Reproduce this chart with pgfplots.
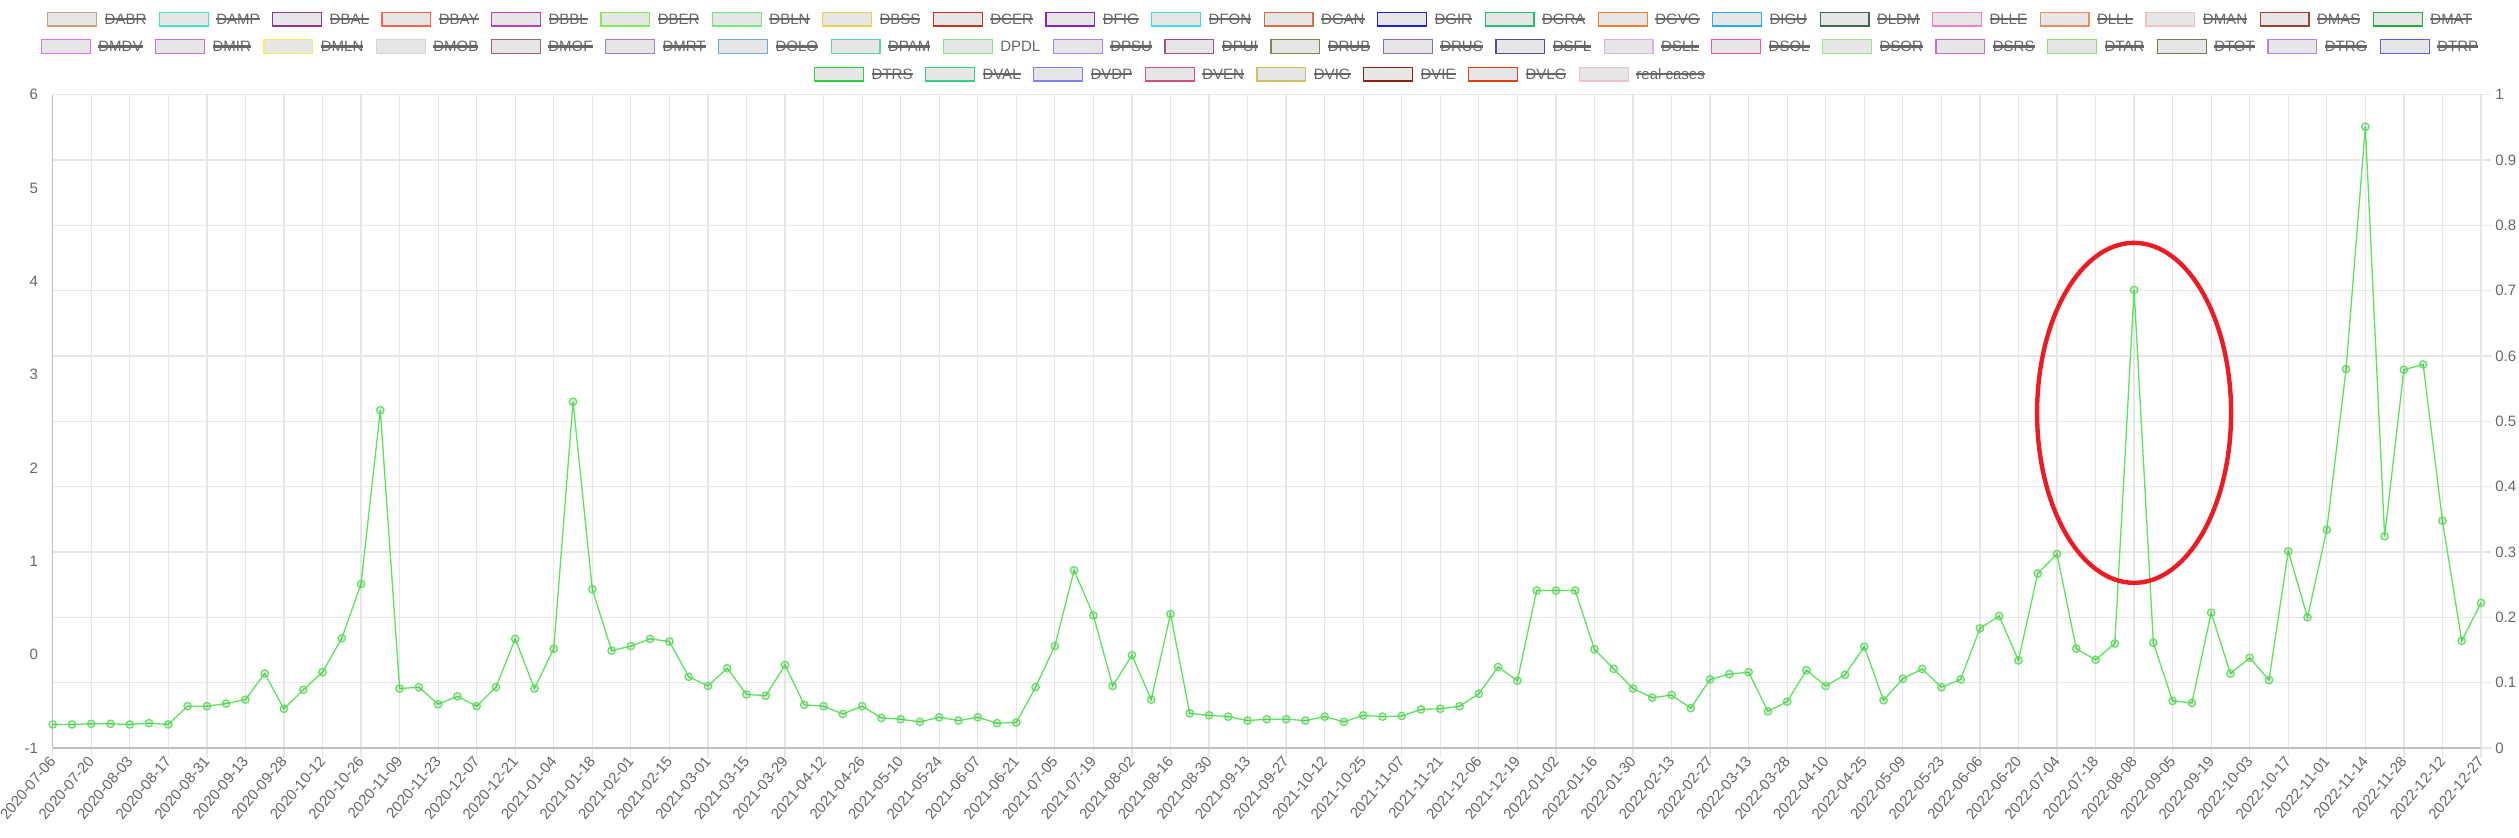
\documentclass[border=0pt]{standalone}
\usepackage{pgfplots}
\pgfplotsset{compat=1.18}
\usepackage{fontspec}
\setmainfont{Liberation Sans}
\definecolor{gridgray}{HTML}{E6E6E6}
\definecolor{zerogray}{HTML}{BFBFBF}
\definecolor{txtgray}{HTML}{666666}
\definecolor{linegreen}{HTML}{5BE35B}
\definecolor{ellred}{HTML}{ED1C24}
\setlength\fboxsep{0pt}
\setlength\fboxrule{0.6pt}
\newcommand\strike[1]{\setbox0\hbox{#1}\rlap{\rule[2.08pt]{\wd0}{1.2pt}}\box0}
\newcommand\LB[1]{\raisebox{-0.47pt}{\fcolorbox[HTML]{#1}{E6E6E6}{\rule{0pt}{6.3pt}\hspace{23.8pt}}}}
\newcommand\LI[2]{\LB{#1}\hspace{3.75pt}\strike{#2}\hspace{6.25pt}}
\newcommand\LV[2]{\LB{#1}\hspace{3.75pt}#2\hspace{6.25pt}}
\begin{document}
\begin{tikzpicture}
\useasboundingbox (0,0) rectangle (1259.5pt,419pt);
\tikzset{legrow/.style={anchor=base, inner sep=0pt, font=\fontsize{7.5}{9}\selectfont, text=txtgray}}
\node[legrow] at (629.75pt,406.8pt) {\LI{C8A07A}{DABR}\LI{40E8C8}{DAMP}\LI{8B3A8B}{DBAL}\LI{FF6347}{DBAY}\LI{C040B8}{DBBL}\LI{80F050}{DBER}\LI{70E880}{DBLN}\LI{E8D050}{DBSS}\LI{D03020}{DCER}\LI{9020C0}{DFIG}\LI{40D8E8}{DFON}\LI{D07040}{DGAN}\LI{2020E0}{DGIR}\LI{20C070}{DGRA}\LI{F08030}{DGVG}\LI{20B0F0}{DIGU}\LI{406850}{DLDM}\LI{F080C8}{DLLE}\LI{E89060}{DLLL}\LI{F0C0C0}{DMAN}\LI{A04030}{DMAS}\LI{20B040}{DMAT}};
\node[legrow] at (629.75pt,393.1pt) {\LI{E070F0}{DMDV}\LI{C070D0}{DMIR}\LI{F0F060}{DMLN}\LI{D0D8D0}{DMOB}\LI{A06080}{DMOF}\LI{A080B8}{DMRT}\LI{70A8D0}{DOLO}\LI{60D0B0}{DPAM}\LV{80E880}{DPDL}\LI{B080F0}{DPSU}\LI{A05090}{DPUI}\LI{808850}{DRUB}\LI{9070A8}{DRUS}\LI{505090}{DSFL}\LI{D8B0E8}{DSLL}\LI{F050B0}{DSOL}\LI{A0E090}{DSOR}\LI{C070C0}{DSRS}\LI{90E070}{DTAR}\LI{787850}{DTOT}\LI{B080F0}{DTRG}\LI{6060E0}{DTRP}};
\node[legrow] at (629.75pt,379.3pt) {\LI{30D040}{DTRS}\LI{30D080}{DVAL}\LI{8080F0}{DVDP}\LI{D05080}{DVEN}\LI{D0C060}{DVIG}\LI{902010}{DVIE}\LI{E04010}{DVLG}\LI{F0C0C8}{real cases}};
% left axis
\begin{axis}[
  at={(26.35pt,45pt)}, anchor=south west, scale only axis,
  width=1214.15pt, height=326.65pt,
  xmin=0, xmax=126, ymin=-1, ymax=6,
  axis y line*=left, axis x line=none,
  ytick={-1,0,1,2,3,4,5,6}, yticklabels={-1,0,1,2,3,4,5,6},
  y axis line style={draw=zerogray, line width=0.625pt, -},
  major tick length=0pt, ytick style={draw=none},
  yticklabel style={font=\fontsize{7.5}{9}\selectfont, text=txtgray, inner sep=0pt, anchor=east, xshift=-7.2pt},
]
\end{axis}
% main axis with data (right scale)
\begin{axis}[
  at={(26.35pt,45pt)}, anchor=south west, scale only axis,
  width=1214.15pt, height=326.65pt,
  xmin=0, xmax=126, ymin=0, ymax=1,
  axis x line*=bottom, axis y line*=right,
  x axis line style={draw=zerogray, line width=0.625pt, -},
  y axis line style={draw=gridgray, line width=0.625pt, -},
  xtick={0,2,...,126},
  xticklabels={2020-07-06,2020-07-20,2020-08-03,2020-08-17,2020-08-31,2020-09-13,2020-09-28,2020-10-12,2020-10-26,2020-11-09,2020-11-23,2020-12-07,2020-12-21,2021-01-04,2021-01-18,2021-02-01,2021-02-15,2021-03-01,2021-03-15,2021-03-29,2021-04-12,2021-04-26,2021-05-10,2021-05-24,2021-06-07,2021-06-21,2021-07-05,2021-07-19,2021-08-02,2021-08-16,2021-08-30,2021-09-13,2021-09-27,2021-10-12,2021-10-25,2021-11-07,2021-11-21,2021-12-06,2021-12-19,2022-01-02,2022-01-16,2022-01-30,2022-02-13,2022-02-27,2022-03-13,2022-03-28,2022-04-10,2022-04-25,2022-05-09,2022-05-23,2022-06-06,2022-06-20,2022-07-04,2022-07-18,2022-08-08,2022-09-05,2022-09-19,2022-10-03,2022-10-17,2022-11-01,2022-11-14,2022-11-28,2022-12-12,2022-12-27},
  ytick={0,0.1,0.2,0.3,0.4,0.5,0.6,0.7,0.8,0.9,1},
  yticklabels={0,0.1,0.2,0.3,0.4,0.5,0.6,0.7,0.8,0.9,1},
  grid=major, grid style={draw=gridgray, line width=0.625pt},
  tick align=outside, major tick length=5pt,
  tick style={draw=gridgray, line width=0.625pt},
  tick label style={font=\fontsize{7.5}{9}\selectfont, text=txtgray},
  xticklabel style={rotate=50, anchor=east, inner sep=0pt},
  yticklabel style={anchor=west, inner sep=0pt, xshift=2pt},
  clip=false,
]
\draw[zerogray, line width=0.625pt] (axis cs:0,0) -- (axis cs:0,1);
\addplot[color=linegreen, line width=0.65pt, mark=*, mark size=1.875pt,
  mark options={fill=black, fill opacity=0.1, draw=linegreen, draw opacity=1, line width=0.6pt}] coordinates {
(0,0.036)(1,0.036)(2,0.037)(3,0.037)(4,0.036)(5,0.038)(6,0.036)(7,0.064)(8,0.064)(9,0.068)
(10,0.074)(11,0.114)(12,0.060)(13,0.089)(14,0.116)(15,0.168)(16,0.251)(17,0.517)(18,0.091)(19,0.093)
(20,0.067)(21,0.079)(22,0.064)(23,0.093)(24,0.167)(25,0.091)(26,0.152)(27,0.530)(28,0.243)(29,0.149)
(30,0.156)(31,0.167)(32,0.163)(33,0.109)(34,0.095)(35,0.122)(36,0.082)(37,0.080)(38,0.127)(39,0.066)
(40,0.064)(41,0.052)(42,0.064)(43,0.046)(44,0.044)(45,0.040)(46,0.047)(47,0.042)(48,0.047)(49,0.038)
(50,0.039)(51,0.093)(52,0.156)(53,0.272)(54,0.203)(55,0.095)(56,0.142)(57,0.074)(58,0.205)(59,0.053)
(60,0.050)(61,0.048)(62,0.042)(63,0.044)(64,0.044)(65,0.042)(66,0.048)(67,0.040)(68,0.050)(69,0.048)
(70,0.049)(71,0.059)(72,0.060)(73,0.064)(74,0.083)(75,0.124)(76,0.103)(77,0.241)(78,0.241)(79,0.241)
(80,0.151)(81,0.121)(82,0.091)(83,0.077)(84,0.081)(85,0.061)(86,0.105)(87,0.113)(88,0.116)(89,0.056)
(90,0.071)(91,0.119)(92,0.095)(93,0.112)(94,0.155)(95,0.073)(96,0.106)(97,0.121)(98,0.093)(99,0.105)
(100,0.183)(101,0.202)(102,0.134)(103,0.267)(104,0.297)(105,0.152)(106,0.135)(107,0.160)(108,0.701)(109,0.161)
(110,0.072)(111,0.069)(112,0.207)(113,0.114)(114,0.138)(115,0.104)(116,0.301)(117,0.200)(118,0.334)(119,0.580)
(120,0.951)(121,0.324)(122,0.579)(123,0.587)(124,0.348)(125,0.164)(126,0.222)
};
\draw[ellred, line width=2.2pt] (axis cs:108,0.513) ellipse [x radius=48.5pt, y radius=85pt];
\end{axis}
\end{tikzpicture}
\end{document}
